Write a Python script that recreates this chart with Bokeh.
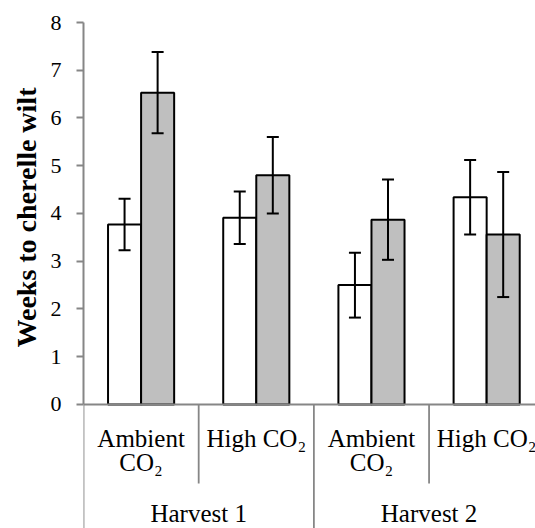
from bokeh.plotting import figure
from bokeh.models import Range1d, FixedTicker, ColumnDataSource, Whisker, TeeHead, Title
from bokeh.core.properties import value
from bokeh.embed import file_html
from bokeh.resources import INLINE

# Weeks to cherelle wilt, by CO2 treatment within each harvest
treatments = ["Ambient\nCO\u2082", "High CO\u2082", "Ambient\nCO\u2082", "High CO\u2082"]
harvests = ["Harvest 1", "Harvest 2"]
white_vals = [3.77, 3.91, 2.50, 4.34]
white_err = [0.54, 0.55, 0.68, 0.78]
grey_vals = [6.53, 4.80, 3.87, 3.56]
grey_err = [0.85, 0.80, 0.84, 1.31]
y_ticks = [0, 1, 2, 3, 4, 5, 6, 7, 8]
y_title = "Weeks to cherelle wilt"

SERIF = "Liberation Serif"
AXIS_GREY = "#868686"
BAR_W = 0.287
X_END = 3.924
Y_LOW = -2.597  # room below zero for the category labels

p = figure(width=535, height=528, output_backend="svg", toolbar_location=None,
           x_range=Range1d(0, X_END), y_range=Range1d(Y_LOW, 8),
           x_axis_location=None, min_border_top=22, min_border_bottom=0,
           min_border_right=0, min_border_left=83)
p.outline_line_color = None
p.xgrid.visible = False
p.ygrid.visible = False
p.background_fill_color = "white"
p.border_fill_color = "white"

ax = p.yaxis[0]
ax.bounds = (0, 8)
ax.ticker = FixedTicker(ticks=y_ticks)
ax.minor_tick_line_color = None
ax.major_tick_in = 0
ax.major_tick_out = 7
ax.axis_line_color = AXIS_GREY
ax.axis_line_width = 2
ax.major_tick_line_color = AXIS_GREY
ax.major_tick_line_width = 2
ax.major_label_text_font = SERIF
ax.major_label_text_font_size = "22px"
ax.major_label_text_color = "black"
ax.major_label_standoff = 15

# axis title on the left, lifted from the bottom so it sits alongside the 0-8 span
p.add_layout(Title(text=y_title, align="left", offset=181, standoff=11,
                   text_font=SERIF, text_font_style="bold", text_font_size="28px",
                   text_color="black"), "left")

n = len(white_vals)
centers = [i + 0.5 for i in range(n)]
wx = [c - BAR_W / 2 for c in centers]
gx = [c + BAR_W / 2 for c in centers]

src_w = ColumnDataSource(dict(x=wx, top=white_vals,
                              up=[v + e for v, e in zip(white_vals, white_err)],
                              lo=[v - e for v, e in zip(white_vals, white_err)]))
src_g = ColumnDataSource(dict(x=gx, top=grey_vals,
                              up=[v + e for v, e in zip(grey_vals, grey_err)],
                              lo=[v - e for v, e in zip(grey_vals, grey_err)]))

p.vbar(x="x", top="top", bottom=0, width=BAR_W, source=src_w,
       fill_color="white", line_color="black", line_width=2)
p.vbar(x="x", top="top", bottom=0, width=BAR_W, source=src_g,
       fill_color="#bfbfbf", line_color="black", line_width=2)

for src in (src_w, src_g):
    p.add_layout(Whisker(base="x", upper="up", lower="lo", source=src, level="annotation",
                         line_width=2, line_color="black",
                         upper_head=TeeHead(size=12, line_width=2, line_color="black"),
                         lower_head=TeeHead(size=12, line_width=2, line_color="black")))

# baseline of the category axis
p.segment(x0=[0], y0=[0], x1=[X_END], y1=[0], line_color=AXIS_GREY, line_width=2)

# full-height dividers at the outer edge and between harvests
p.segment(x0=[0, 2], y0=[0, 0], x1=[0, 2], y1=[Y_LOW, Y_LOW],
          line_color=AXIS_GREY, line_width=1.8)
# shorter dividers between treatments
p.segment(x0=[1, 3], y0=[0, 0], x1=[1, 3], y1=[-1.654, -1.654],
          line_color=AXIS_GREY, line_width=1.8)

# treatment labels
first_lines = [t.split("\n")[0] for t in treatments]
second_lines = [t.split("\n")[1] if "\n" in t else "" for t in treatments]
p.text(x=centers, y=[-0.712] * n, text=first_lines, text_align="center",
       text_baseline="middle", text_font=value(SERIF), text_font_size="25px",
       text_color="black")
p.text(x=centers, y=[-1.215] * n, text=second_lines, text_align="center",
       text_baseline="middle", text_font=value(SERIF), text_font_size="25px",
       text_color="black")

# harvest labels
p.text(x=[1, 3], y=[-2.283, -2.283], text=harvests, text_align="center",
       text_baseline="middle", text_font=value(SERIF), text_font_size="25px",
       text_color="black")

open("out.html", "w").write(file_html(p, INLINE))
